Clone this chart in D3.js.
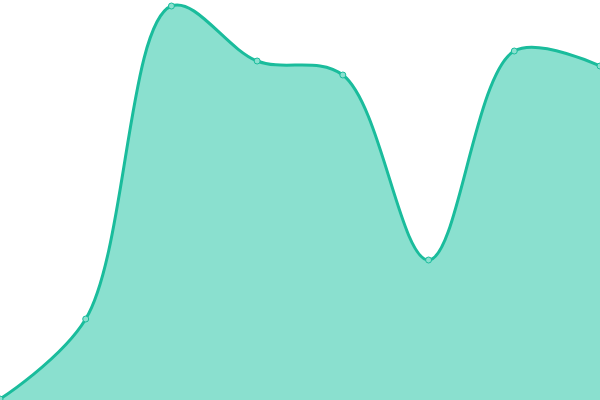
<!DOCTYPE html>
<html>
<head>
<meta charset="utf-8">
<script src="https://cdn.jsdelivr.net/npm/d3@7"></script>
<style>
  html, body { margin: 0; padding: 0; background: #fff; }
  svg { display: block; }
</style>
</head>
<body>
<svg id="chart"></svg>
<script>
var categories = [0, 1, 2, 3, 4, 5, 6, 7];
var values = [1, 81, 394, 339, 325, 140, 349, 334];

var svgW = 600;
var svgH = 400;
var lineColor = "#1abc9c";
var fillColor = "#8ae0cf";

var svg = d3.select("#chart")
  .attr("width", svgW)
  .attr("height", svgH);

var xScale = d3.scaleLinear()
  .domain([0, categories.length - 1])
  .range([0, svgW]);

var yScale = d3.scaleLinear()
  .domain([0, 400])
  .range([svgH, 0]);

var data = categories.map(function(c, i){ return {x: c, y: values[i]}; });

var curve = d3.curveCatmullRom.alpha(0.5);

var area = d3.area()
  .x(function(d){ return xScale(d.x); })
  .y0(yScale(0))
  .y1(function(d){ return yScale(d.y); })
  .curve(curve);

var line = d3.line()
  .x(function(d){ return xScale(d.x); })
  .y(function(d){ return yScale(d.y); })
  .curve(curve);

svg.append("path")
  .datum(data)
  .attr("d", area)
  .attr("fill", fillColor);

svg.append("path")
  .datum(data)
  .attr("d", line)
  .attr("fill", "none")
  .attr("stroke", lineColor)
  .attr("stroke-width", 3);

svg.selectAll("circle")
  .data(data)
  .enter()
  .append("circle")
    .attr("cx", function(d){ return xScale(d.x); })
    .attr("cy", function(d){ return yScale(d.y); })
    .attr("r", 3)
    .attr("fill", fillColor)
    .attr("stroke", lineColor)
    .attr("stroke-width", 1);
</script>
</body>
</html>
